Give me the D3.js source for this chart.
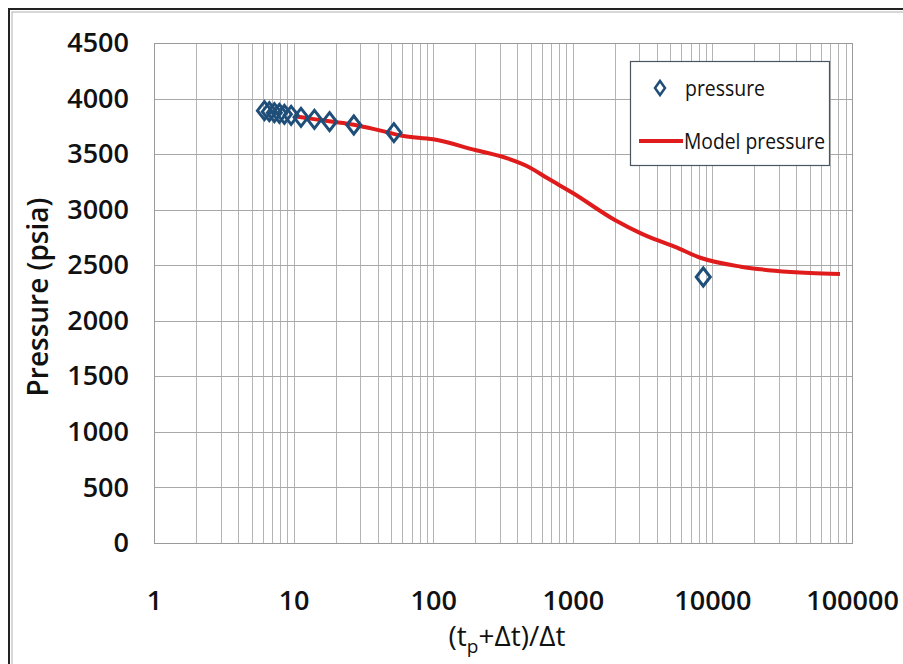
<!DOCTYPE html>
<html>
<head>
    <title>Pressure vs Horner time</title>
    <style>
        body { margin: 0; background: #fff; }
        text { font-family: 'Open Sans', sans-serif; }
    </style>
    <script src="https://d3js.org/d3.v7.min.js"></script>
</head>
<body>
    <div id="chart"></div>

    <script>
        // measured pressure points
        var pressureX = [6.18, 6.7, 7.28, 7.91, 8.59, 9.6, 11.3, 14.1, 18.1, 27.0, 52.3, 8600];
        var pressureY = [3891, 3882, 3873, 3867, 3858, 3849, 3831, 3813, 3792, 3762, 3693, 2394];

        // model curve
        var modelX = [10.7, 14, 18, 27, 42, 60, 100, 200, 340, 480, 660, 1000, 2000, 3100, 4300, 5400, 8300, 16000, 28000, 50000, 82000];
        var modelY = [3837, 3815, 3795, 3765, 3711, 3665, 3633, 3537, 3462, 3387, 3282, 3150, 2907, 2785, 2712, 2665, 2565, 2487, 2451, 2430, 2421];

        var xTicks = [1, 10, 100, 1000, 10000, 100000];
        var yTicks = [0, 500, 1000, 1500, 2000, 2500, 3000, 3500, 4000, 4500];

        var width = 903, height = 664;
        var margin = { top: 43, right: 51, bottom: 121, left: 154 };
        var w = width - margin.left - margin.right;
        var h = height - margin.top - margin.bottom;

        var svg = d3.select('#chart').append('svg')
            .attr('width', width)
            .attr('height', height);

        // outer frame (runs off the right and bottom)
        svg.append('rect')
            .attr('x', 9).attr('y', 9)
            .attr('width', 1000).attr('height', 800)
            .attr('fill', 'none')
            .attr('stroke', '#222').attr('stroke-width', 2);
        svg.append('rect')
            .attr('x', 12).attr('y', 12)
            .attr('width', 1000).attr('height', 800)
            .attr('fill', 'none')
            .attr('stroke', '#b0b0b0').attr('stroke-width', 1);

        var g = svg.append('g')
            .attr('transform', 'translate(' + margin.left + ',' + margin.top + ')');

        var x = d3.scaleLog().domain([1, 100000]).range([0, w]);
        var y = d3.scaleLinear().domain([0, 4500]).range([h, 0]);

        // vertical grid: every 1..9 in each decade
        var minor = [];
        xTicks.slice(0, -1).forEach(function(d) {
            for (var k = 1; k <= 9; k++) minor.push(d * k);
        });
        minor.push(100000);

        g.selectAll('.vgrid')
            .data(minor)
            .enter().append('line')
            .attr('x1', function(d) { return Math.round(x(d)) + 0.5; })
            .attr('x2', function(d) { return Math.round(x(d)) + 0.5; })
            .attr('y1', 0).attr('y2', h)
            .attr('stroke', '#b4b4b4').attr('stroke-width', 1);

        g.selectAll('.hgrid')
            .data(yTicks)
            .enter().append('line')
            .attr('x1', 0).attr('x2', w)
            .attr('y1', function(d) { return Math.round(y(d)) + 0.5; })
            .attr('y2', function(d) { return Math.round(y(d)) + 0.5; })
            .attr('stroke', '#a8a8a8').attr('stroke-width', 1);

        g.append('rect')
            .attr('x', 0.5).attr('y', 0.5)
            .attr('width', w).attr('height', h)
            .attr('fill', 'none').attr('stroke', '#9a9a9a');

        // axes (labels only)
        var xAxis = d3.axisBottom(x).tickValues(xTicks).tickFormat(d3.format('d')).tickSize(0).tickPadding(48);
        var yAxis = d3.axisLeft(y).tickValues(yTicks).tickFormat(d3.format('d')).tickSize(0).tickPadding(25);

        var gx = g.append('g').attr('transform', 'translate(0,' + h + ')').call(xAxis);
        var gy = g.append('g').call(yAxis);
        [gx, gy].forEach(function(a) {
            a.select('.domain').remove();
            a.selectAll('text')
                .attr('font-family', "'Open Sans', sans-serif")
                .attr('font-size', 27)
                .attr('font-weight', 600)
                .attr('fill', '#111');
        });

        // model line
        var line = d3.line()
            .x(function(d) { return x(d[0]); })
            .y(function(d) { return y(d[1]); })
            .curve(d3.curveMonotoneX);

        g.append('path')
            .datum(modelX.map(function(d, i) { return [d, modelY[i]]; }))
            .attr('d', line)
            .attr('fill', 'none')
            .attr('stroke', '#e01b1b')
            .attr('stroke-width', 4);

        // diamonds
        var diamond = 'M0,-9L7,0L0,9L-7,0Z';
        g.selectAll('.pt')
            .data(pressureX.map(function(d, i) { return [d, pressureY[i]]; }))
            .enter().append('path')
            .attr('d', diamond)
            .attr('transform', function(d) { return 'translate(' + x(d[0]) + ',' + y(d[1]) + ')'; })
            .attr('fill', 'none')
            .attr('stroke', '#1f4e79')
            .attr('stroke-width', 3);

        // axis titles
        svg.append('text')
            .attr('transform', 'translate(48,297) rotate(-90)')
            .attr('text-anchor', 'middle')
            .attr('font-size', 28)
            .attr('font-weight', 600)
            .attr('fill', '#111')
            .text('Pressure (psia)');

        var xt = svg.append('text')
            .attr('x', 507).attr('y', 646)
            .attr('text-anchor', 'middle')
            .attr('font-size', 28)
            .attr('fill', '#111');
        xt.append('tspan').text('(t');
        xt.append('tspan').attr('font-size', 19).attr('dy', 7).text('p');
        xt.append('tspan').attr('dy', -7).text('+Δt)/Δt');

        // legend
        var lg = svg.append('g');
        lg.append('rect')
            .attr('x', 630.5).attr('y', 61.5)
            .attr('width', 199).attr('height', 104)
            .attr('fill', '#fff')
            .attr('stroke', '#4a5560').attr('stroke-width', 1.2);
        lg.append('path')
            .attr('d', 'M0,-7L5,0L0,7L-5,0Z')
            .attr('transform', 'translate(660,88)')
            .attr('fill', 'none')
            .attr('stroke', '#1f4e79')
            .attr('stroke-width', 2.5);
        lg.append('text')
            .attr('x', 685).attr('y', 96)
            .attr('font-size', 22)
            .attr('textLength', 80)
            .attr('lengthAdjust', 'spacingAndGlyphs')
            .attr('fill', '#111')
            .text('pressure');
        lg.append('line')
            .attr('x1', 639).attr('x2', 683)
            .attr('y1', 141).attr('y2', 141)
            .attr('stroke', '#e01b1b').attr('stroke-width', 4);
        lg.append('text')
            .attr('x', 684).attr('y', 149)
            .attr('font-size', 22)
            .attr('textLength', 141)
            .attr('lengthAdjust', 'spacingAndGlyphs')
            .attr('fill', '#111')
            .text('Model pressure');
    </script>
</body>
</html>
